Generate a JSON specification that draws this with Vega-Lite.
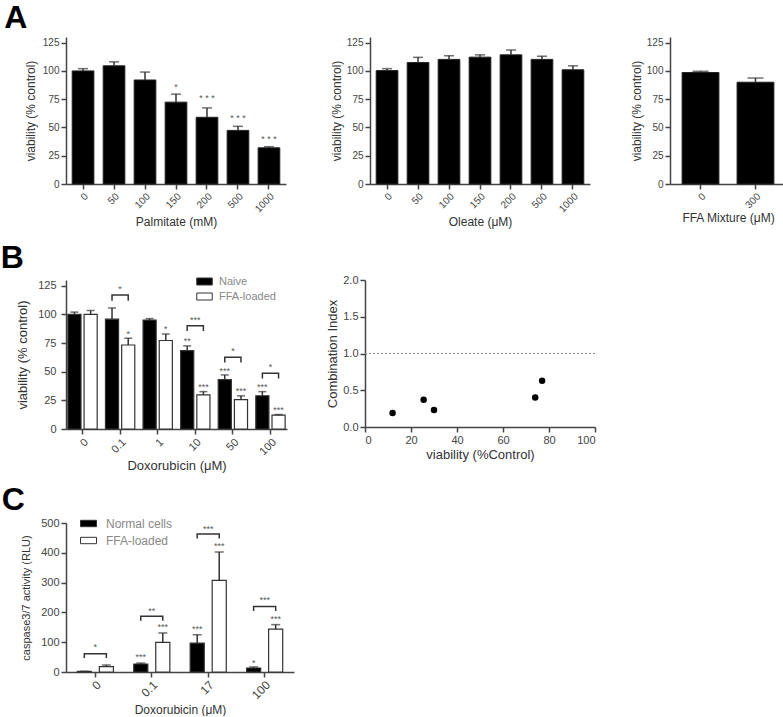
{
  "$schema": "https://vega.github.io/schema/vega-lite/v6.json",
  "padding": {"left": 0, "top": 2, "right": 0, "bottom": 0},
  "background": "white",
  "config": {
    "view": {"stroke": null},
    "font": "Liberation Sans",
    "axis": {"domainColor": "#444", "domainWidth": 1.5, "tickColor": "#444", "tickWidth": 1.5, "tickSize": 5, "labelColor": "#444", "labelFontSize": 10, "titleColor": "#333", "titleFontSize": 12, "titleFontWeight": "normal", "grid": false, "labelPadding": 2, "titlePadding": 3, "labelOverlap": false},
    "title": {"fontSize": 32, "fontWeight": "bold", "anchor": "start", "color": "#000", "font": "Liberation Sans"},
    "legend": {"labelFont": "Liberation Sans"}
  },
  "datasets": {
    "palm": [
      {"c": "0", "v": 100, "hi": 102, "s": ""},
      {"c": "50", "v": 104.5, "hi": 108, "s": ""},
      {"c": "100", "v": 92, "hi": 99, "s": ""},
      {"c": "150", "v": 72.4, "hi": 79.5, "s": "*", "sy": 86},
      {"c": "200", "v": 59, "hi": 67.3, "s": "* * *", "sy": 76},
      {"c": "500", "v": 47.4, "hi": 51, "s": "* * *", "sy": 58},
      {"c": "1000", "v": 32, "hi": 33, "s": "* * *", "sy": 40}
    ],
    "ole": [
      {"c": "0", "v": 100.3, "hi": 102},
      {"c": "50", "v": 107.4, "hi": 112},
      {"c": "100", "v": 110.2, "hi": 113.4},
      {"c": "150", "v": 112.2, "hi": 114.2},
      {"c": "200", "v": 114.2, "hi": 118.5},
      {"c": "500", "v": 110.2, "hi": 113},
      {"c": "1000", "v": 101, "hi": 104.5}
    ],
    "ffa": [
      {"c": "0", "v": 98.6, "hi": 99.7},
      {"c": "300", "v": 90, "hi": 93.7}
    ],
    "dox": [
      {"d": "0", "g": "Naive", "v": 100, "hi": 102, "s": ""},
      {"d": "0", "g": "FFA-loaded", "v": 100, "hi": 103.4, "s": ""},
      {"d": "0.1", "g": "Naive", "v": 95.8, "hi": 105.6, "s": ""},
      {"d": "0.1", "g": "FFA-loaded", "v": 73.3, "hi": 79.2, "s": "*", "sy": 83},
      {"d": "1", "g": "Naive", "v": 95, "hi": 96.3, "s": ""},
      {"d": "1", "g": "FFA-loaded", "v": 77.2, "hi": 82.9, "s": "*", "sy": 87},
      {"d": "10", "g": "Naive", "v": 68.3, "hi": 72.5, "s": "**", "sy": 77},
      {"d": "10", "g": "FFA-loaded", "v": 29.8, "hi": 32.6, "s": "***", "sy": 37},
      {"d": "50", "g": "Naive", "v": 43, "hi": 47.2, "s": "***", "sy": 51},
      {"d": "50", "g": "FFA-loaded", "v": 25.6, "hi": 28.9, "s": "***", "sy": 33},
      {"d": "100", "g": "Naive", "v": 29, "hi": 32.6, "s": "***", "sy": 37},
      {"d": "100", "g": "FFA-loaded", "v": 12.1, "hi": 12.6, "s": "***", "sy": 17}
    ],
    "doxBr": [
      {"d": "0.1", "g": "Naive", "y": 112, "o": 1}, {"d": "0.1", "g": "Naive", "y": 117, "o": 2}, {"d": "0.1", "g": "FFA-loaded", "y": 117, "o": 3}, {"d": "0.1", "g": "FFA-loaded", "y": 112, "o": 4},
      {"d": "10", "g": "Naive", "y": 85.5, "o": 1}, {"d": "10", "g": "Naive", "y": 90, "o": 2}, {"d": "10", "g": "FFA-loaded", "y": 90, "o": 3}, {"d": "10", "g": "FFA-loaded", "y": 85.5, "o": 4},
      {"d": "50", "g": "Naive", "y": 58, "o": 1}, {"d": "50", "g": "Naive", "y": 62.6, "o": 2}, {"d": "50", "g": "FFA-loaded", "y": 62.6, "o": 3}, {"d": "50", "g": "FFA-loaded", "y": 58, "o": 4},
      {"d": "100", "g": "Naive", "y": 44, "o": 1}, {"d": "100", "g": "Naive", "y": 48.6, "o": 2}, {"d": "100", "g": "FFA-loaded", "y": 48.6, "o": 3}, {"d": "100", "g": "FFA-loaded", "y": 44, "o": 4}
    ],
    "doxBrStar": [
      {"d": "0.1", "s": "*", "sy": 122},
      {"d": "10", "s": "***", "sy": 95},
      {"d": "50", "s": "*", "sy": 68},
      {"d": "100", "s": "*", "sy": 54}
    ],
    "ci": [
      {"v": 12, "ci": 0.19},
      {"v": 25.5, "ci": 0.37},
      {"v": 30, "ci": 0.23},
      {"v": 74, "ci": 0.40},
      {"v": 77, "ci": 0.63}
    ],
    "casp": [
      {"d": "0", "g": "Normal cells", "v": 2, "hi": 2.5, "s": ""},
      {"d": "0", "g": "FFA-loaded", "v": 18, "hi": 23.5, "s": ""},
      {"d": "0.1", "g": "Normal cells", "v": 26.8, "hi": 30, "s": "***", "sy": 49},
      {"d": "0.1", "g": "FFA-loaded", "v": 99.5, "hi": 131, "s": "***", "sy": 151},
      {"d": "17", "g": "Normal cells", "v": 97, "hi": 125, "s": "***", "sy": 144},
      {"d": "17", "g": "FFA-loaded", "v": 307.6, "hi": 402.7, "s": "***", "sy": 424},
      {"d": "100", "g": "Normal cells", "v": 13.4, "hi": 17, "s": "*", "sy": 30},
      {"d": "100", "g": "FFA-loaded", "v": 144, "hi": 159, "s": "***", "sy": 178}
    ],
    "caspBr": [
      {"d": "0", "g": "Normal cells", "y": 47, "o": 1}, {"d": "0", "g": "Normal cells", "y": 61.5, "o": 2}, {"d": "0", "g": "FFA-loaded", "y": 61.5, "o": 3}, {"d": "0", "g": "FFA-loaded", "y": 47, "o": 4},
      {"d": "0.1", "g": "Normal cells", "y": 172, "o": 1}, {"d": "0.1", "g": "Normal cells", "y": 187, "o": 2}, {"d": "0.1", "g": "FFA-loaded", "y": 187, "o": 3}, {"d": "0.1", "g": "FFA-loaded", "y": 172, "o": 4},
      {"d": "17", "g": "Normal cells", "y": 448, "o": 1}, {"d": "17", "g": "Normal cells", "y": 463, "o": 2}, {"d": "17", "g": "FFA-loaded", "y": 463, "o": 3}, {"d": "17", "g": "FFA-loaded", "y": 448, "o": 4},
      {"d": "100", "g": "Normal cells", "y": 205, "o": 1}, {"d": "100", "g": "Normal cells", "y": 220, "o": 2}, {"d": "100", "g": "FFA-loaded", "y": 220, "o": 3}, {"d": "100", "g": "FFA-loaded", "y": 205, "o": 4}
    ],
    "caspBrStar": [
      {"d": "0", "s": "*", "sy": 84},
      {"d": "0.1", "s": "**", "sy": 204},
      {"d": "17", "s": "***", "sy": 480},
      {"d": "100", "s": "***", "sy": 240}
    ]
  },
  "resolve": {"scale": {"fill": "independent", "xOffset": "independent"}, "legend": {"fill": "independent"}},
  "columns": 1,
  "align": "none",
  "spacing": 14,
  "concat": [
    {
      "title": {"text": "A", "dx": -20, "offset": 2},
      "spacing": 44,
      "hconcat": [
        {
          "width": 220, "height": 147,
          "data": {"name": "palm"},
          "encoding": {"x": {"field": "c", "type": "ordinal", "sort": null, "scale": {"paddingInner": 0.3, "paddingOuter": 0.2}, "axis": {"labelAngle": -45, "title": "Palmitate (mM)"}}},
          "layer": [
            {"mark": {"type": "bar", "fill": "#000", "stroke": "#222", "strokeWidth": 1}, "encoding": {"y": {"field": "v", "type": "quantitative", "scale": {"domain": [0, 125]}, "axis": {"values": [0, 25, 50, 75, 100, 125], "titlePadding": 5, "title": "viability (% control)"}}}},
            {"mark": {"type": "rule", "color": "#333", "strokeWidth": 1.5}, "encoding": {"y": {"field": "v", "type": "quantitative", "axis": {"values": [0, 25, 50, 75, 100, 125], "titlePadding": 5, "title": "viability (% control)"}}, "y2": {"field": "hi"}}},
            {"mark": {"type": "tick", "color": "#333", "thickness": 1.5, "size": 10}, "encoding": {"y": {"field": "hi", "type": "quantitative", "axis": {"values": [0, 25, 50, 75, 100, 125], "titlePadding": 5, "title": "viability (% control)"}}}},
            {"transform": [{"filter": "datum.s"}], "mark": {"type": "text", "fontSize": 9, "color": "#555", "baseline": "middle"}, "encoding": {"y": {"field": "sy", "type": "quantitative", "axis": {"values": [0, 25, 50, 75, 100, 125], "titlePadding": 5, "title": "viability (% control)"}}, "text": {"field": "s"}}}
          ]
        },
        {
          "spacing": 40,
          "hconcat": [
            {
              "width": 220, "height": 147,
              "data": {"name": "ole"},
              "encoding": {"x": {"field": "c", "type": "ordinal", "sort": null, "scale": {"paddingInner": 0.3, "paddingOuter": 0.2}, "axis": {"labelAngle": -45, "title": "Oleate (μM)"}}},
              "layer": [
                {"mark": {"type": "bar", "fill": "#000", "stroke": "#222", "strokeWidth": 1}, "encoding": {"y": {"field": "v", "type": "quantitative", "scale": {"domain": [0, 125]}, "axis": {"values": [0, 25, 50, 75, 100, 125], "title": "viability (% control)"}}}},
                {"mark": {"type": "rule", "color": "#333", "strokeWidth": 1.5}, "encoding": {"y": {"field": "v", "type": "quantitative", "axis": {"values": [0, 25, 50, 75, 100, 125], "title": "viability (% control)"}}, "y2": {"field": "hi"}}},
                {"mark": {"type": "tick", "color": "#333", "thickness": 1.5, "size": 10}, "encoding": {"y": {"field": "hi", "type": "quantitative", "axis": {"values": [0, 25, 50, 75, 100, 125], "title": "viability (% control)"}}}}
              ]
            },
            {
              "width": 116, "height": 147,
              "data": {"name": "ffa"},
              "encoding": {"x": {"field": "c", "type": "ordinal", "sort": null, "scale": {"paddingInner": 0.33, "paddingOuter": 0.22}, "axis": {"labelAngle": -45, "title": "FFA  Mixture (μM)"}}},
              "layer": [
                {"mark": {"type": "bar", "fill": "#000", "stroke": "#222", "strokeWidth": 1}, "encoding": {"y": {"field": "v", "type": "quantitative", "scale": {"domain": [0, 125]}, "axis": {"values": [0, 25, 50, 75, 100, 125], "title": "viability (% control)"}}}},
                {"mark": {"type": "rule", "color": "#333", "strokeWidth": 1.5}, "encoding": {"y": {"field": "v", "type": "quantitative", "axis": {"values": [0, 25, 50, 75, 100, 125], "title": "viability (% control)"}}, "y2": {"field": "hi"}}},
                {"mark": {"type": "tick", "color": "#333", "thickness": 1.5, "size": 16}, "encoding": {"y": {"field": "hi", "type": "quantitative", "axis": {"values": [0, 25, 50, 75, 100, 125], "title": "viability (% control)"}}}}
              ]
            }
          ]
        }
      ]
    },
    {
      "columns": 1,
      "align": "none",
      "spacing": 11,
      "resolve": {"scale": {"fill": "independent", "xOffset": "independent"}, "legend": {"fill": "independent"}},
      "concat": [
        {
          "title": {"text": "B", "dx": -16, "offset": -2},
          "spacing": 39,
          "resolve": {"scale": {"fill": "independent", "xOffset": "independent"}, "legend": {"fill": "independent"}},
          "hconcat": [
            {
              "width": 221, "height": 149,
              "encoding": {
                "x": {"field": "d", "type": "ordinal", "sort": null, "scale": {"paddingInner": 0.22, "paddingOuter": 0.05}, "axis": {"labelAngle": -45, "labelFontSize": 11, "titleFontSize": 13, "title": "Doxorubicin (μM)"}},
                "xOffset": {"field": "g", "type": "nominal", "sort": ["Naive", "FFA-loaded"], "scale": {"domain": ["Naive", "FFA-loaded"], "paddingInner": 0.19}}
              },
              "layer": [
                {"data": {"name": "dox"}, "mark": {"type": "bar", "stroke": "#333", "strokeWidth": 1.2}, "encoding": {
                  "y": {"field": "v", "type": "quantitative", "scale": {"domain": [0, 125]}, "axis": {"values": [0, 25, 50, 75, 100, 125], "labelFontSize": 11, "labelPadding": 5, "titleFontSize": 13, "titlePadding": 8, "title": "viability (% control)"}},
                  "fill": {"field": "g", "type": "nominal", "scale": {"domain": ["Naive", "FFA-loaded"], "range": ["#000", "#fff"]}, "legend": {"title": null, "orient": "none", "legendX": 130, "legendY": -7, "symbolType": "M-1,-0.45H1V0.45H-1Z", "symbolSize": 240, "symbolStrokeColor": "#333", "symbolStrokeWidth": 1, "labelColor": "#888", "labelFontSize": 11, "labelOffset": 6, "rowPadding": 1}}
                }},
                {"data": {"name": "dox"}, "mark": {"type": "rule", "color": "#333", "strokeWidth": 1.5}, "encoding": {"y": {"field": "v", "type": "quantitative", "axis": {"values": [0, 25, 50, 75, 100, 125], "labelFontSize": 11, "labelPadding": 5, "titleFontSize": 13, "titlePadding": 8, "title": "viability (% control)"}}, "y2": {"field": "hi"}}},
                {"data": {"name": "dox"}, "mark": {"type": "tick", "color": "#333", "thickness": 1.5, "size": 8}, "encoding": {"y": {"field": "hi", "type": "quantitative", "axis": {"values": [0, 25, 50, 75, 100, 125], "labelFontSize": 11, "labelPadding": 5, "titleFontSize": 13, "titlePadding": 8, "title": "viability (% control)"}}}},
                {"data": {"name": "dox"}, "transform": [{"filter": "datum.s"}], "mark": {"type": "text", "fontSize": 9, "color": "#555", "baseline": "middle"}, "encoding": {"y": {"field": "sy", "type": "quantitative", "axis": {"values": [0, 25, 50, 75, 100, 125], "labelFontSize": 11, "labelPadding": 5, "titleFontSize": 13, "titlePadding": 8, "title": "viability (% control)"}}, "text": {"field": "s"}}},
                {"data": {"name": "doxBr"}, "mark": {"type": "line", "color": "#333", "strokeWidth": 1.5}, "encoding": {"y": {"field": "y", "type": "quantitative", "axis": {"values": [0, 25, 50, 75, 100, 125], "labelFontSize": 11, "labelPadding": 5, "titleFontSize": 13, "titlePadding": 8, "title": "viability (% control)"}}, "detail": {"field": "d"}, "order": {"field": "o"}}},
                {"data": {"name": "doxBrStar"}, "mark": {"type": "text", "fontSize": 9, "color": "#555", "baseline": "middle"}, "encoding": {"xOffset": null, "y": {"field": "sy", "type": "quantitative", "axis": {"values": [0, 25, 50, 75, 100, 125], "labelFontSize": 11, "labelPadding": 5, "titleFontSize": 13, "titlePadding": 8, "title": "viability (% control)"}}, "text": {"field": "s"}}}
              ]
            },
            {
              "width": 230, "height": 147,
              "layer": [
                {"data": {"values": [{"y": 1}]}, "mark": {"type": "rule", "strokeDash": [2, 2], "color": "#888", "strokeWidth": 1}, "encoding": {"y": {"field": "y", "type": "quantitative", "scale": {"domain": [0, 2]}, "axis": {"values": [0, 0.5, 1, 1.5, 2], "format": ".1f", "labelFontSize": 11, "titleFontSize": 13, "title": "Combination Index"}}}},
                {"data": {"name": "ci"}, "mark": {"type": "circle", "size": 42, "color": "#000", "opacity": 1}, "encoding": {
                  "x": {"field": "v", "type": "quantitative", "scale": {"domain": [0, 100]}, "axis": {"values": [0, 20, 40, 60, 80, 100], "labelFontSize": 11, "titleFontSize": 13, "title": "viability (%Control)"}},
                  "y": {"field": "ci", "type": "quantitative", "scale": {"domain": [0, 2]}, "axis": {"values": [0, 0.5, 1, 1.5, 2], "format": ".1f", "labelFontSize": 11, "titleFontSize": 13, "title": "Combination Index"}}
                }}
              ]
            }
          ]
        },
        {
          "title": {"text": "C", "dx": -19, "offset": -2},
          "width": 228, "height": 149,
          "encoding": {
            "x": {"field": "d", "type": "ordinal", "sort": null, "scale": {"paddingInner": 0.36, "paddingOuter": 0.2}, "axis": {"labelAngle": -45, "labelFontSize": 12, "titleFontSize": 12, "titlePadding": 4, "title": "Doxorubicin (μM)"}},
            "xOffset": {"field": "g", "type": "nominal", "sort": ["Normal cells", "FFA-loaded"], "scale": {"domain": ["Normal cells", "FFA-loaded"], "paddingInner": 0.36}}
          },
          "layer": [
            {"data": {"name": "casp"}, "mark": {"type": "bar", "stroke": "#333", "strokeWidth": 1.2}, "encoding": {
              "y": {"field": "v", "type": "quantitative", "scale": {"domain": [0, 500]}, "axis": {"values": [0, 100, 200, 300, 400, 500], "labelFontSize": 11, "titleFontSize": 11, "titlePadding": 9, "title": "caspase3/7 activity (RLU)"}},
              "fill": {"field": "g", "type": "nominal", "scale": {"domain": ["Normal cells", "FFA-loaded"], "range": ["#000", "#fff"]}, "legend": {"title": null, "orient": "none", "legendX": 14, "legendY": -8, "symbolType": "M-1,-0.4H1V0.4H-1Z", "symbolSize": 256, "symbolStrokeColor": "#333", "symbolStrokeWidth": 1, "labelColor": "#888", "labelFontSize": 12, "labelOffset": 9, "rowPadding": 2}}
            }},
            {"data": {"name": "casp"}, "mark": {"type": "rule", "color": "#333", "strokeWidth": 1.5}, "encoding": {"y": {"field": "v", "type": "quantitative", "axis": {"values": [0, 100, 200, 300, 400, 500], "labelFontSize": 11, "titleFontSize": 11, "titlePadding": 9, "title": "caspase3/7 activity (RLU)"}}, "y2": {"field": "hi"}}},
            {"data": {"name": "casp"}, "mark": {"type": "tick", "color": "#333", "thickness": 1.5, "size": 9}, "encoding": {"y": {"field": "hi", "type": "quantitative", "axis": {"values": [0, 100, 200, 300, 400, 500], "labelFontSize": 11, "titleFontSize": 11, "titlePadding": 9, "title": "caspase3/7 activity (RLU)"}}}},
            {"data": {"name": "casp"}, "transform": [{"filter": "datum.s"}], "mark": {"type": "text", "fontSize": 9, "color": "#555", "baseline": "middle"}, "encoding": {"y": {"field": "sy", "type": "quantitative", "axis": {"values": [0, 100, 200, 300, 400, 500], "labelFontSize": 11, "titleFontSize": 11, "titlePadding": 9, "title": "caspase3/7 activity (RLU)"}}, "text": {"field": "s"}}},
            {"data": {"name": "caspBr"}, "mark": {"type": "line", "color": "#333", "strokeWidth": 1.5}, "encoding": {"y": {"field": "y", "type": "quantitative", "axis": {"values": [0, 100, 200, 300, 400, 500], "labelFontSize": 11, "titleFontSize": 11, "titlePadding": 9, "title": "caspase3/7 activity (RLU)"}}, "detail": {"field": "d"}, "order": {"field": "o"}}},
            {"data": {"name": "caspBrStar"}, "mark": {"type": "text", "fontSize": 9, "color": "#555", "baseline": "middle"}, "encoding": {"xOffset": null, "y": {"field": "sy", "type": "quantitative", "axis": {"values": [0, 100, 200, 300, 400, 500], "labelFontSize": 11, "titleFontSize": 11, "titlePadding": 9, "title": "caspase3/7 activity (RLU)"}}, "text": {"field": "s"}}}
          ]
        }
      ]
    }
  ]
}
